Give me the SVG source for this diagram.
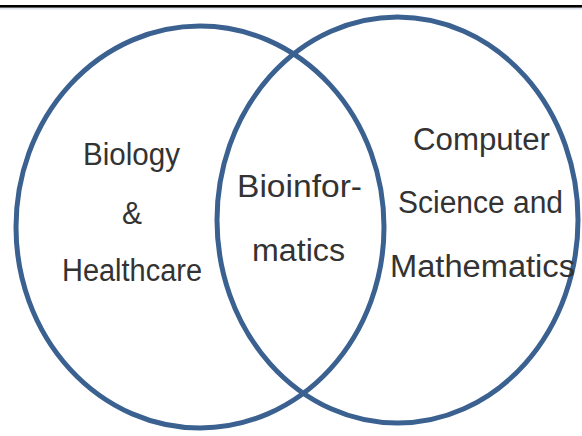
<svg xmlns="http://www.w3.org/2000/svg" width="582" height="436" viewBox="0 0 582 436">
<style>
.c{fill:none;stroke:#3a6190;stroke-width:5}
.t{font-family:"Liberation Sans",Arial,sans-serif;font-size:31px;fill:#333333}
</style>
<rect width="582" height="436" fill="#ffffff"/>
<rect x="0" y="7.5" width="582" height="2" fill="#dde4ef"/>
<rect x="0" y="5" width="582" height="2.6" fill="#000000"/>
<g id="left">
<ellipse class="c" cx="200" cy="227" rx="184" ry="201"/>
</g>
<g id="right">
<ellipse class="c" cx="397.5" cy="220" rx="180.5" ry="203"/>
</g>
<g id="connectors"></g>
<g id="labels-left">
<text class="t" x="83" y="165" textLength="97" lengthAdjust="spacingAndGlyphs">Biology</text>
<text class="t" x="122" y="224" textLength="20" lengthAdjust="spacingAndGlyphs">&amp;</text>
<text class="t" x="62" y="281" textLength="140" lengthAdjust="spacingAndGlyphs">Healthcare</text>
</g>
<g id="labels-middle">
<text class="t" x="237" y="197" textLength="125" lengthAdjust="spacingAndGlyphs">Bioinfor-</text>
<text class="t" x="252" y="261" textLength="93" lengthAdjust="spacingAndGlyphs">matics</text>
</g>
<g id="labels-right">
<text class="t" x="413" y="150" textLength="137" lengthAdjust="spacingAndGlyphs">Computer</text>
<text class="t" x="398" y="213" textLength="165" lengthAdjust="spacingAndGlyphs">Science and</text>
<text class="t" x="390" y="277" textLength="185" lengthAdjust="spacingAndGlyphs">Mathematics</text>
</g>
</svg>
